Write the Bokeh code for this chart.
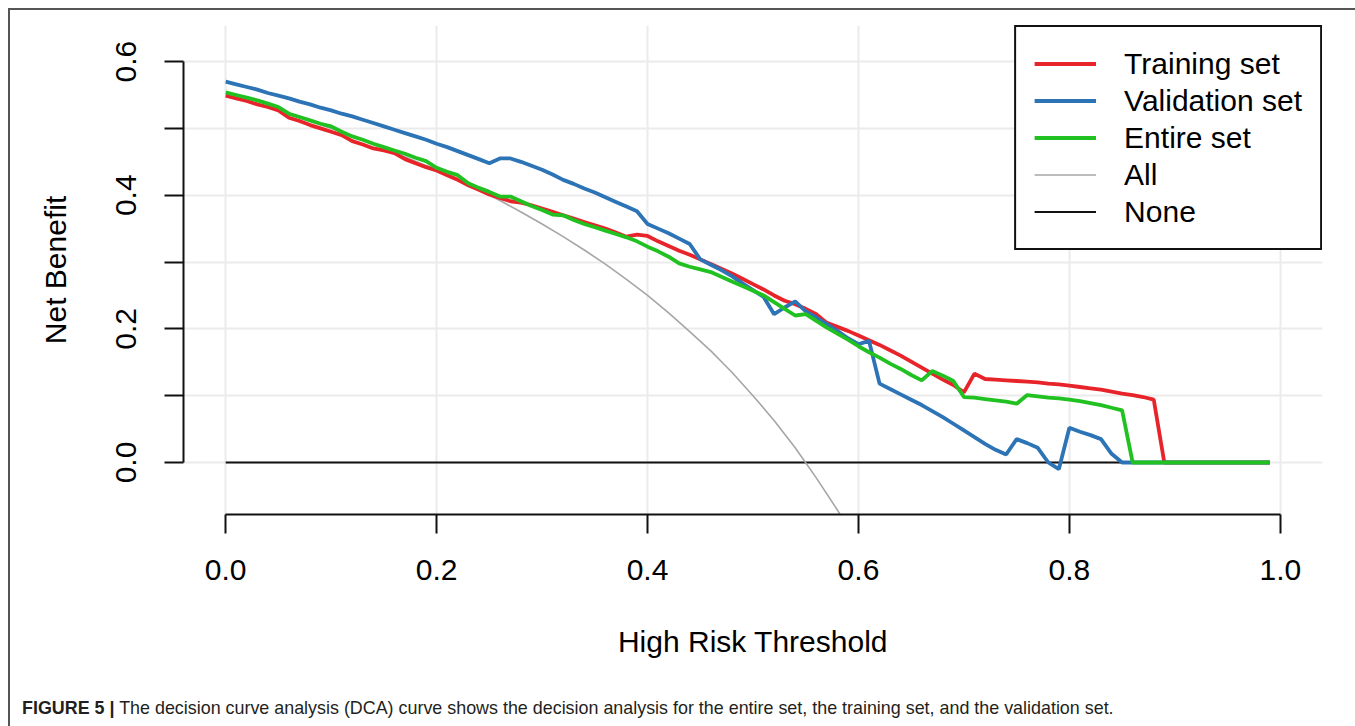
from bokeh.plotting import figure
from bokeh.models import Range1d, FixedTicker, Legend, LegendItem, Div
from bokeh.layouts import column
from bokeh.embed import file_html
from bokeh.resources import INLINE

# ---------------- data ----------------
threshold = [
    0.00, 0.01, 0.02, 0.03, 0.04, 0.05, 0.06, 0.07, 0.08, 0.09,
    0.10, 0.11, 0.12, 0.13, 0.14, 0.15, 0.16, 0.17, 0.18, 0.19,
    0.20, 0.21, 0.22, 0.23, 0.24, 0.25, 0.26, 0.27, 0.28, 0.29,
    0.30, 0.31, 0.32, 0.33, 0.34, 0.35, 0.36, 0.37, 0.38, 0.39,
    0.40, 0.41, 0.42, 0.43, 0.44, 0.45, 0.46, 0.47, 0.48, 0.49,
    0.50, 0.51, 0.52, 0.53, 0.54, 0.55, 0.56, 0.57, 0.58, 0.59,
    0.60, 0.61, 0.62, 0.63, 0.64, 0.65, 0.66, 0.67, 0.68, 0.69,
    0.70, 0.71, 0.72, 0.73, 0.74, 0.75, 0.76, 0.77, 0.78, 0.79,
    0.80, 0.81, 0.82, 0.83, 0.84, 0.85, 0.86, 0.87, 0.88, 0.89,
    0.90, 0.91, 0.92, 0.93, 0.94, 0.95, 0.96, 0.97, 0.98, 0.99,
]

training_nb = [
    0.549, 0.545, 0.541, 0.536, 0.532, 0.527, 0.516, 0.511, 0.505, 0.500,
    0.495, 0.490, 0.481, 0.476, 0.470, 0.467, 0.463, 0.454, 0.448, 0.442,
    0.437, 0.430, 0.423, 0.415, 0.408, 0.401, 0.396, 0.391, 0.389, 0.385,
    0.380, 0.375, 0.370, 0.365, 0.360, 0.355, 0.350, 0.344, 0.338, 0.341,
    0.339, 0.331, 0.324, 0.317, 0.311, 0.304, 0.297, 0.290, 0.283, 0.275,
    0.267, 0.259, 0.250, 0.242, 0.237, 0.230, 0.222, 0.209, 0.203, 0.197,
    0.190, 0.183, 0.176, 0.168, 0.160, 0.151, 0.142, 0.133, 0.124, 0.116,
    0.105, 0.133, 0.125, 0.124, 0.123, 0.122, 0.121, 0.120, 0.118, 0.117,
    0.115, 0.113, 0.111, 0.109, 0.106, 0.103, 0.101, 0.098, 0.094, 0.000,
    0.000, 0.000, 0.000, 0.000, 0.000, 0.000, 0.000, 0.000, 0.000, 0.000,
]

validation_nb = [
    0.570, 0.566, 0.562, 0.558, 0.553, 0.549, 0.545, 0.540, 0.536, 0.531,
    0.527, 0.522, 0.518, 0.513, 0.508, 0.503, 0.498, 0.493, 0.488, 0.483,
    0.477, 0.472, 0.466, 0.460, 0.454, 0.448, 0.455, 0.455, 0.450, 0.444,
    0.438, 0.431, 0.423, 0.417, 0.410, 0.404, 0.397, 0.390, 0.383, 0.376,
    0.357, 0.350, 0.343, 0.335, 0.327, 0.304, 0.296, 0.288, 0.279, 0.268,
    0.258, 0.248, 0.222, 0.232, 0.241, 0.226, 0.217, 0.207, 0.197, 0.186,
    0.177, 0.182, 0.118, 0.110, 0.102, 0.094, 0.086, 0.077, 0.068, 0.058,
    0.048, 0.038, 0.028, 0.019, 0.012, 0.035, 0.029, 0.022, 0.000, -0.010,
    0.052, 0.046, 0.041, 0.035, 0.013, 0.000, 0.000, 0.000, 0.000, 0.000,
    0.000, 0.000, 0.000, 0.000, 0.000, 0.000, 0.000, 0.000, 0.000, 0.000,
]

entire_nb = [
    0.554, 0.550, 0.546, 0.542, 0.537, 0.532, 0.522, 0.517, 0.512, 0.507,
    0.503, 0.495, 0.488, 0.483, 0.477, 0.472, 0.467, 0.462, 0.456, 0.451,
    0.441, 0.435, 0.430, 0.418, 0.411, 0.405, 0.398, 0.398, 0.391, 0.384,
    0.378, 0.371, 0.370, 0.363, 0.357, 0.352, 0.347, 0.342, 0.337, 0.331,
    0.323, 0.316, 0.308, 0.298, 0.293, 0.289, 0.285, 0.278, 0.271, 0.264,
    0.257, 0.250, 0.240, 0.230, 0.220, 0.222, 0.212, 0.202, 0.193, 0.184,
    0.174, 0.165, 0.157, 0.148, 0.140, 0.131, 0.123, 0.137, 0.130, 0.122,
    0.098, 0.097, 0.095, 0.093, 0.091, 0.088, 0.101, 0.099, 0.097, 0.096,
    0.094, 0.092, 0.089, 0.086, 0.082, 0.078, 0.000, 0.000, 0.000, 0.000,
    0.000, 0.000, 0.000, 0.000, 0.000, 0.000, 0.000, 0.000, 0.000, 0.000,
]

all_threshold = [
    0.00, 0.02, 0.04, 0.06, 0.08, 0.10, 0.12, 0.14, 0.16, 0.18,
    0.20, 0.22, 0.24, 0.26, 0.28, 0.30, 0.32, 0.34, 0.36, 0.38,
    0.40, 0.42, 0.44, 0.46, 0.48, 0.50, 0.52, 0.54, 0.56, 0.58, 0.60,
]
all_nb = [
    0.550, 0.541, 0.531, 0.521, 0.511, 0.500, 0.489, 0.477, 0.464, 0.451,
    0.438, 0.423, 0.408, 0.392, 0.375, 0.357, 0.338, 0.318, 0.297, 0.274,
    0.250, 0.224, 0.196, 0.167, 0.135, 0.100, 0.063, 0.022, -0.023, -0.071, -0.125,
]

none_threshold = [0.00, 0.99]
none_nb = [0.0, 0.0]

series_names = ["Training set", "Validation set", "Entire set", "All", "None"]

x_ticks = [0.0, 0.2, 0.4, 0.6, 0.8, 1.0]
x_tick_labels = ["0.0", "0.2", "0.4", "0.6", "0.8", "1.0"]
y_ticks = [0.0, 0.1, 0.2, 0.3, 0.4, 0.5, 0.6]
y_tick_labels = ["0.0", "", "0.2", "", "0.4", "", "0.6"]

x_title = "High Risk Threshold"
y_title = "Net Benefit"
caption_bold = "FIGURE 5 |"
caption_text = ("The decision curve analysis (DCA) curve shows the decision analysis "
                "for the entire set, the training set, and the validation set.")

# ---------------- figure ----------------
FONT = "Liberation Sans"

p = figure(width=1345, height=680,
           x_range=Range1d(-0.04, 1.04), y_range=Range1d(-0.0778, 0.654),
           output_backend="svg", toolbar_location=None,
           min_border_left=173, min_border_right=33,
           min_border_top=15, min_border_bottom=176)
p.outline_line_color = None
p.background_fill_color = "white"
p.border_fill_color = "white"

p.xaxis.ticker = FixedTicker(ticks=x_ticks)
p.yaxis.ticker = FixedTicker(ticks=y_ticks)
p.xaxis.major_label_overrides = dict(zip(x_ticks, x_tick_labels))
p.yaxis.major_label_overrides = dict(zip(y_ticks, y_tick_labels))
p.xaxis.bounds = (0, 1)
p.yaxis.bounds = (0, 0.6)
p.xaxis.axis_label = x_title
p.yaxis.axis_label = y_title
p.yaxis.major_label_orientation = "vertical"

for ax in (p.xaxis[0], p.yaxis[0]):
    ax.axis_line_width = 2
    ax.axis_line_color = "#111111"
    ax.major_tick_line_width = 2
    ax.major_tick_line_color = "#111111"
    ax.major_tick_out = 19
    ax.major_tick_in = 0
    ax.minor_tick_line_color = None
    ax.major_label_text_font = FONT
    ax.major_label_text_font_size = "30px"
    ax.major_label_text_color = "black"
    ax.axis_label_text_font = FONT
    ax.axis_label_text_font_size = "30px"
    ax.axis_label_text_font_style = "normal"
    ax.axis_label_text_color = "black"

p.xaxis.major_label_standoff = 26
p.xaxis.axis_label_standoff = 42
p.yaxis.major_label_standoff = 28
p.yaxis.axis_label_standoff = 42

p.xgrid.grid_line_color = "#EBEBEB"
p.ygrid.grid_line_color = "#EBEBEB"
p.xgrid.grid_line_width = 2
p.ygrid.grid_line_width = 2

r_none = p.line(none_threshold, none_nb, line_color="#111111", line_width=2)
r_all = p.line(all_threshold, all_nb, line_color="#A6A6A6", line_width=1.6)
r_train = p.line(threshold, training_nb, line_color="#E8242B", line_width=3.8)
r_val = p.line(threshold, validation_nb, line_color="#2C74B5", line_width=3.8)
r_ent = p.line(threshold, entire_nb, line_color="#22C122", line_width=3.8)

legend = Legend(items=[
    LegendItem(label=series_names[0], renderers=[r_train]),
    LegendItem(label=series_names[1], renderers=[r_val]),
    LegendItem(label=series_names[2], renderers=[r_ent]),
    LegendItem(label=series_names[3], renderers=[r_all]),
    LegendItem(label=series_names[4], renderers=[r_none]),
], location="top_right")
legend.margin = 0
legend.padding = 18
legend.spacing = 0
legend.glyph_width = 62
legend.glyph_height = 37
legend.label_height = 37
legend.label_standoff = 28
legend.label_text_font = FONT
legend.label_text_font_size = "30px"
legend.label_text_color = "black"
legend.border_line_color = "#111111"
legend.border_line_alpha = 1.0
legend.border_line_width = 2
legend.background_fill_color = "white"
legend.background_fill_alpha = 1.0
p.add_layout(legend)

cap = Div(text="<b>" + caption_bold + "</b> " + caption_text,
          width=1320, height=30, margin=(6, 0, 0, 12),
          styles={"font-family": FONT, "font-size": "17.9px", "color": "#231F20",
                  "white-space": "nowrap"})

layout = column(p, cap, margin=(8, 0, 0, 8),
                styles={"border-left": "2px solid #555555",
                        "border-top": "2px solid #555555"})

open("out.html", "w").write(file_html(layout, INLINE))
